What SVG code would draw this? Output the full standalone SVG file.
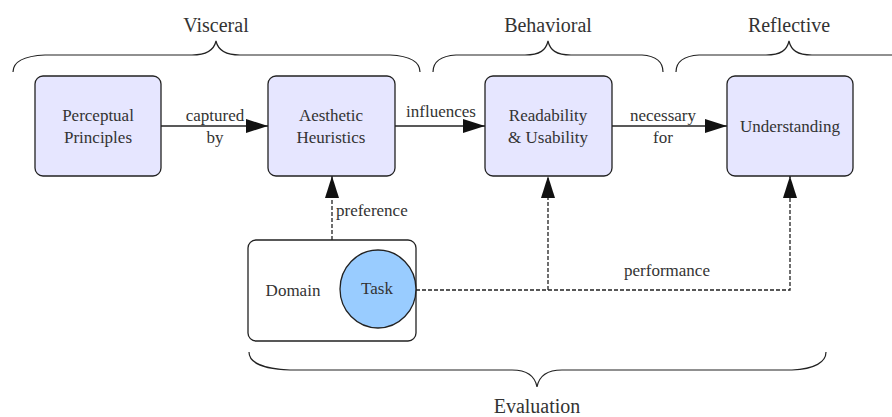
<svg xmlns="http://www.w3.org/2000/svg" width="892" height="417" viewBox="0 0 892 417">
  <style>
    .box { fill: #e6e6ff; stroke: #222; stroke-width: 1.3; }
    .edge { fill: none; stroke: #222; stroke-width: 1.3; }
    .dash { fill: none; stroke: #222; stroke-width: 1.3; stroke-dasharray: 4 2; }
    .brace { fill: none; stroke: #222; stroke-width: 1.2; }
  </style>
  <defs>
    <marker id="arrow" markerUnits="userSpaceOnUse" markerWidth="24" markerHeight="16" refX="22" refY="7" orient="auto">
      <path d="M0,0 L22,7 L0,14 Z" fill="#111"/>
    </marker>
  </defs>
  <rect width="892" height="417" fill="#fff"/>

  <!-- braces and level titles -->
  <g id="braces">
    <path class="brace" d="M13,72 C13,62 24,56 45,55 L192,55 C207,55 214,50 216,41 C218,50 225,55 240,55 L390,55 C410,56 420,62 420,72"/>
    <path class="brace" d="M433,72 C433,62 441,56 456,55 L525,55 C540,55 546,50 548,41 C550,50 556,55 571,55 L642,55 C656,56 663,62 663,72"/>
    <path class="brace" d="M676,72 C676,62 684,56 699,55 L766,55 C781,55 787,50 789,41 C791,50 797,55 812,55 L892,55"/>
    <path class="brace" d="M249,352 C249,362 262,369 290,370 L512,370 C527,370 535,376 537,387 C539,376 547,370 562,370 L792,370 C815,369 826,362 826,352"/>
    <text font-family="Liberation Serif, serif" font-size="20" fill="#333" x="216" y="32" text-anchor="middle">Visceral</text>
    <text font-family="Liberation Serif, serif" font-size="20" fill="#333" x="548" y="32" text-anchor="middle">Behavioral</text>
    <text font-family="Liberation Serif, serif" font-size="20" fill="#333" x="789" y="32" text-anchor="middle">Reflective</text>
    <text font-family="Liberation Serif, serif" font-size="20" fill="#333" x="537" y="413" text-anchor="middle">Evaluation</text>
  </g>

  <!-- connectors -->
  <g id="connectors">
    <line class="edge" x1="161" y1="126" x2="268" y2="126" marker-end="url(#arrow)"/>
    <line class="edge" x1="395" y1="126" x2="485" y2="126" marker-end="url(#arrow)"/>
    <line class="edge" x1="612" y1="126" x2="727" y2="126" marker-end="url(#arrow)"/>
    <line class="dash" x1="332" y1="240" x2="332" y2="176" marker-end="url(#arrow)"/>
    <polyline class="dash" points="416,290 790,290 790,176" marker-end="url(#arrow)"/>
    <line class="dash" x1="548" y1="290" x2="548" y2="176" marker-end="url(#arrow)"/>
    <text font-family="Liberation Serif, serif" font-size="17" fill="#333" x="215" y="121" text-anchor="middle">captured</text>
    <text font-family="Liberation Serif, serif" font-size="17" fill="#333" x="215" y="143" text-anchor="middle">by</text>
    <text font-family="Liberation Serif, serif" font-size="17" fill="#333" x="441" y="117" text-anchor="middle">influences</text>
    <text font-family="Liberation Serif, serif" font-size="17" fill="#333" x="663" y="121" text-anchor="middle">necessary</text>
    <text font-family="Liberation Serif, serif" font-size="17" fill="#333" x="663" y="143" text-anchor="middle">for</text>
    <text font-family="Liberation Serif, serif" font-size="17" fill="#333" x="336" y="216">preference</text>
    <text font-family="Liberation Serif, serif" font-size="17" fill="#333" x="667" y="276" text-anchor="middle">performance</text>
  </g>

  <g id="perceptual">
    <rect class="box" x="35" y="76" width="126" height="100" rx="8"/>
    <text font-family="Liberation Serif, serif" font-size="17" fill="#333" x="98" y="121" text-anchor="middle">Perceptual</text>
    <text font-family="Liberation Serif, serif" font-size="17" fill="#333" x="98" y="143" text-anchor="middle">Principles</text>
  </g>
  <g id="aesthetic">
    <rect class="box" x="268" y="76" width="127" height="100" rx="8"/>
    <text font-family="Liberation Serif, serif" font-size="17" fill="#333" x="331" y="121" text-anchor="middle">Aesthetic</text>
    <text font-family="Liberation Serif, serif" font-size="17" fill="#333" x="331" y="143" text-anchor="middle">Heuristics</text>
  </g>
  <g id="readability">
    <rect class="box" x="485" y="76" width="127" height="100" rx="8"/>
    <text font-family="Liberation Serif, serif" font-size="17" fill="#333" x="548" y="121" text-anchor="middle">Readability</text>
    <text font-family="Liberation Serif, serif" font-size="17" fill="#333" x="548" y="143" text-anchor="middle">&amp; Usability</text>
  </g>
  <g id="understanding">
    <rect class="box" x="727" y="76" width="126" height="100" rx="8"/>
    <text font-family="Liberation Serif, serif" font-size="17" fill="#333" x="790" y="132" text-anchor="middle">Understanding</text>
  </g>
  <g id="domain">
    <rect x="248" y="240" width="168" height="101" rx="8" fill="#fff" stroke="#222" stroke-width="1.3"/>
    <text font-family="Liberation Serif, serif" font-size="17" fill="#333" x="293" y="296" text-anchor="middle">Domain</text>
  </g>
  <g id="task">
    <ellipse cx="378" cy="289" rx="38" ry="39" fill="#99ccff" stroke="#222" stroke-width="1.3"/>
    <text font-family="Liberation Serif, serif" font-size="17" fill="#333" x="377" y="294" text-anchor="middle">Task</text>
  </g>
</svg>
